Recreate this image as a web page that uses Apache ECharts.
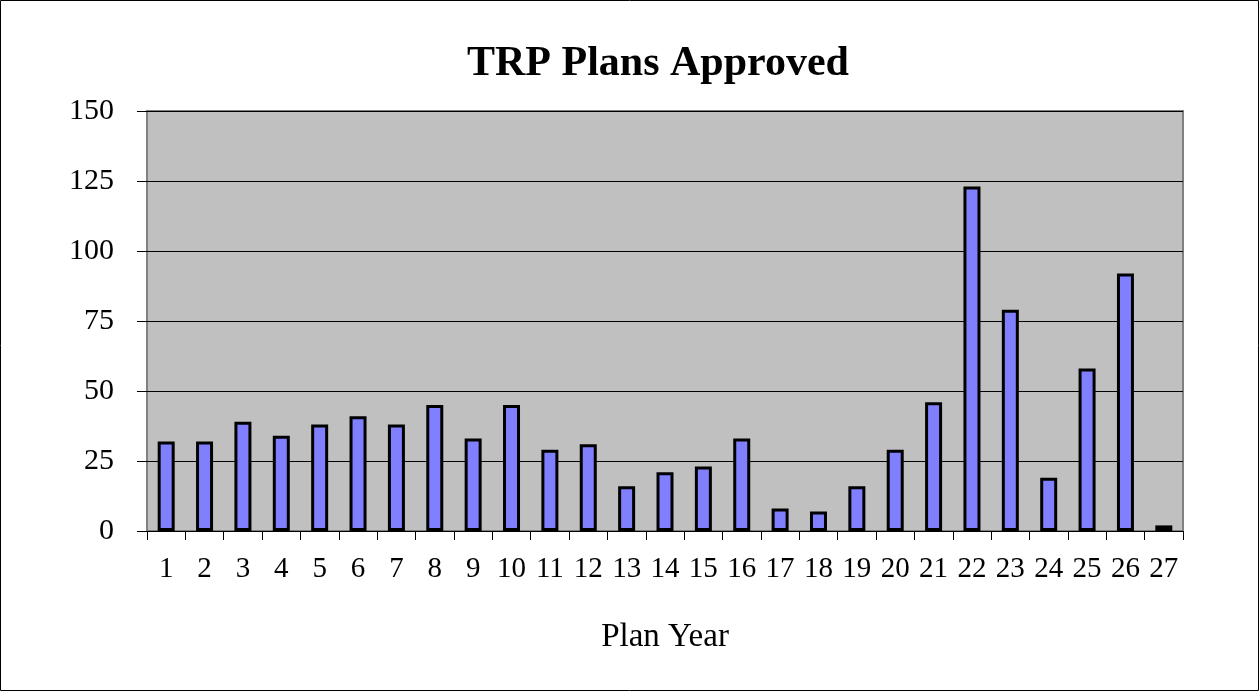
<!DOCTYPE html>
<html>
<head>
<meta charset="utf-8">
<script src="https://cdn.jsdelivr.net/npm/echarts@6/dist/echarts.min.js"></script>
<style>
html,body{margin:0;padding:0;background:#fff;}
#main{width:1260px;height:692px;}
</style>
</head>
<body>
<div id="main"></div>
<script>
const categories = ['1','2','3','4','5','6','7','8','9','10','11','12','13','14','15','16','17','18','19','20','21','22','23','24','25','26','27'];
const plansApproved = [32,32,39,34,38,41,38,45,33,45,29,31,16,21,23,33,8,7,16,29,46,123,79,19,58,92,2];
const yTicks = {min:0, max:150, interval:25};
const titleText = 'TRP Plans Approved';
const xAxisName = 'Plan Year';

const FONT = '"Liberation Serif", "DejaVu Serif", serif';
const chart = echarts.init(document.getElementById('main'));
chart.setOption({
  animation:false,
  backgroundColor:'#fff',
  title:{text:titleText,left:462,top:38,
    textStyle:{fontFamily:FONT,fontWeight:'bold',fontSize:42,color:'#000'}},
  graphic:[{type:'rect',shape:{x:0.5,y:0.5,width:1258,height:690},
    style:{fill:'none',stroke:'#000',lineWidth:1},silent:true}],
  grid:{left:147,right:77,top:111,bottom:161,show:true,backgroundColor:'#C0C0C0',
    borderColor:'#808080',borderWidth:2},
  xAxis:{type:'category',data:categories,boundaryGap:true,
    name:xAxisName,nameLocation:'middle',nameGap:90,
    nameTextStyle:{fontFamily:FONT,fontSize:33,color:'#000'},
    axisLine:{show:true,lineStyle:{color:'#000',width:1}},
    axisTick:{show:true,length:9,lineStyle:{color:'#000'},alignWithLabel:false},
    axisLabel:{interval:0,margin:24,fontFamily:FONT,fontSize:29,color:'#000'},
    splitLine:{show:false}},
  yAxis:{type:'value',min:yTicks.min,max:yTicks.max,interval:yTicks.interval,
    axisLine:{show:false},
    axisTick:{show:true,length:10,lineStyle:{color:'#000'}},
    axisLabel:{margin:33,fontFamily:FONT,fontSize:30,color:'#000'},
    splitLine:{show:true,lineStyle:{color:'#000',width:1}}},
  series:[{type:'bar',data:plansApproved,barWidth:17,
    itemStyle:{color:'#8080FF',borderColor:'#000',borderWidth:3}}]
});
</script>
</body>
</html>
